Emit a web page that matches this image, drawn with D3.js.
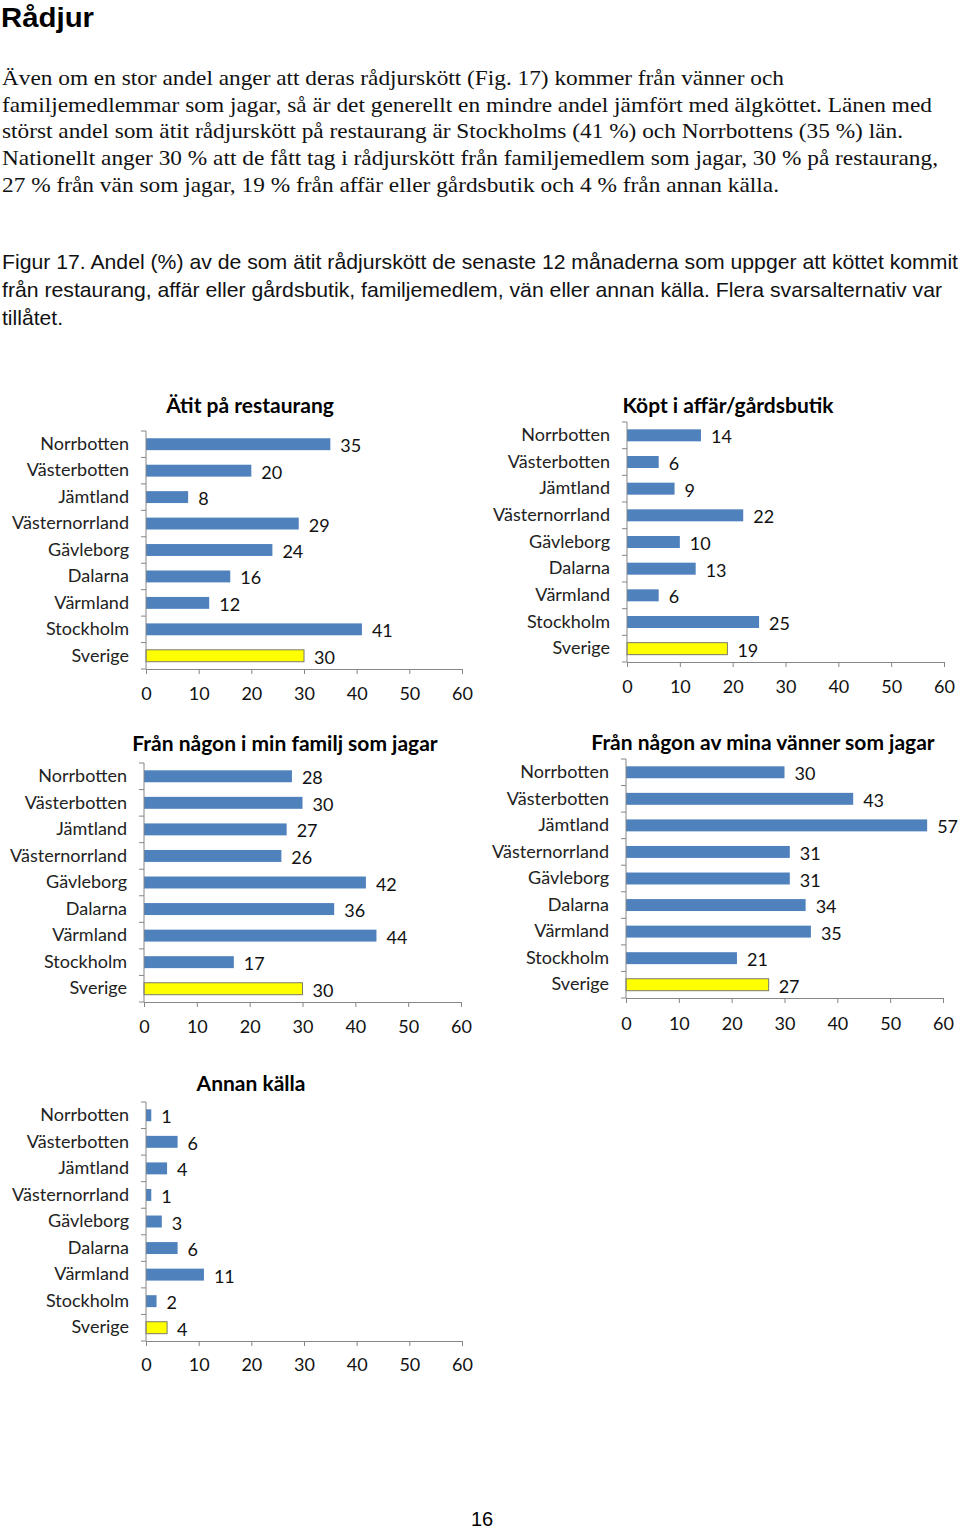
<!DOCTYPE html>
<html><head><meta charset="utf-8">
<script src="https://cdn.jsdelivr.net/npm/d3@7"></script>
<style>
html,body{margin:0;padding:0;background:#fff;}
svg{display:block;}
</style></head>
<body>
<script>
// ---------- DATA ----------
const categories = ["Norrbotten","Västerbotten","Jämtland","Västernorrland","Gävleborg","Dalarna","Värmland","Stockholm","Sverige"];
const restaurang = [35,20,8,29,24,16,12,41,30];
const affar      = [14,6,9,22,10,13,6,25,19];
const familj     = [28,30,27,26,42,36,44,17,30];
const vanner     = [30,43,57,31,31,34,35,21,27];
const annan      = [1,6,4,1,3,6,11,2,4];
const xTicks = [0,10,20,30,40,50,60];
const chartTitles = ["Ätit på restaurang","Köpt i affär/gårdsbutik","Från någon i min familj som jagar","Från någon av mina vänner som jagar","Annan källa"];
const series = [restaurang, affar, familj, vanner, annan];

const heading = "Rådjur";
const paragraph = [
 "Även om en stor andel anger att deras rådjurskött (Fig. 17) kommer från vänner och",
 "familjemedlemmar som jagar, så är det generellt en mindre andel jämfört med älgköttet. Länen med",
 "störst andel som ätit rådjurskött på restaurang är Stockholms (41 %) och Norrbottens (35 %) län.",
 "Nationellt anger 30 % att de fått tag i rådjurskött från familjemedlem som jagar, 30 % på restaurang,",
 "27 % från vän som jagar, 19 % från affär eller gårdsbutik och 4 % från annan källa."
];
const caption = [
 "Figur 17. Andel (%) av de som ätit rådjurskött de senaste 12 månaderna som uppger att köttet kommit",
 "från restaurang, affär eller gårdsbutik, familjemedlem, vän eller annan källa. Flera svarsalternativ var",
 "tillåtet."
];
const pageNumber = "16";

// ---------- LAYOUT ----------
const W = 960, H = 1530;
const svg = d3.select("body").append("svg").attr("width", W).attr("height", H);

// text block
svg.append("text").attr("x", 1).attr("y", 27)
  .attr("font-family", "'Liberation Sans', Arial, sans-serif").attr("font-weight", "bold")
  .attr("font-size", 28).attr("textLength", 93).attr("lengthAdjust", "spacingAndGlyphs")
  .text(heading);

const paraWidths = [782, 930, 901, 936, 777];
const paraY = [85, 112, 138, 165, 192];
paragraph.forEach((t, i) => {
  svg.append("text").attr("x", 2).attr("y", paraY[i])
    .attr("font-family", "'Liberation Serif', 'Times New Roman', serif")
    .attr("font-size", 22).attr("fill", "#111")
    .attr("textLength", paraWidths[i]).attr("lengthAdjust", "spacingAndGlyphs")
    .text(t);
});
const capWidths = [956, 940, 61];
const capY = [269, 297, 325];
caption.forEach((t, i) => {
  svg.append("text").attr("x", 2).attr("y", capY[i])
    .attr("font-family", "'Liberation Sans', Arial, sans-serif")
    .attr("font-size", 21).attr("fill", "#111")
    .attr("textLength", capWidths[i]).attr("lengthAdjust", "spacingAndGlyphs")
    .text(t);
});
svg.append("text").attr("x", 482).attr("y", 1526).attr("text-anchor", "middle")
  .attr("font-family", "'Liberation Sans', Arial, sans-serif").attr("font-size", 20)
  .text(pageNumber);

// chart frames
const frames = [
  {x0:146, x1:462, top:431, bottom:669, tx:250, ty:404, tickY:693},
  {x0:627, x1:944, top:422, bottom:662, tx:728, ty:404, tickY:686},
  {x0:144, x1:461, top:763, bottom:1002, tx:285, ty:742, tickY:1026},
  {x0:626, x1:943, top:759, bottom:998, tx:763, ty:741, tickY:1023},
  {x0:146, x1:462, top:1102, bottom:1341, tx:251, ty:1082, tickY:1364}
];

const chartFont = "Lato, 'Open Sans', sans-serif";
const axisColor = "#868686";
const blue = "#4F81BD", yellow = "#FFFF00";

series.forEach((vals, ci) => {
  const f = frames[ci];
  const g = svg.append("g");
  const x = d3.scaleLinear().domain([xTicks[0], xTicks[xTicks.length-1]]).range([f.x0, f.x1]);
  const y = d3.scaleBand().domain(categories).range([f.top, f.bottom]).padding(0);
  const bh = y.bandwidth() * 0.45;

  // title
  g.append("text").attr("x", f.tx).attr("y", f.ty).attr("text-anchor", "middle")
    .attr("dominant-baseline", "central")
    .attr("font-family", chartFont).attr("font-weight", "bold").attr("font-size", 21)
    .attr("fill", "#000").text(chartTitles[ci]);

  // bars
  g.selectAll("rect.bar").data(vals).join("rect")
    .attr("x", x(0))
    .attr("y", (d, i) => y(categories[i]) + (y.bandwidth() - bh) / 2)
    .attr("width", d => x(d) - x(0))
    .attr("height", bh)
    .attr("fill", (d, i) => categories[i] === "Sverige" ? yellow : blue)
    .attr("stroke", (d, i) => categories[i] === "Sverige" ? "#7a7a6a" : "none")
    .attr("stroke-width", 1);

  // value labels
  g.selectAll("text.val").data(vals).join("text")
    .attr("x", d => x(d) + 10)
    .attr("y", (d, i) => y(categories[i]) + y.bandwidth() / 2 + 1)
    .attr("dominant-baseline", "central")
    .attr("font-family", chartFont).attr("font-size", 18).attr("fill", "#111")
    .text(d => d);

  // y axis (category)
  const yAxis = d3.axisLeft(y).tickSize(0).tickPadding(17);
  const ya = g.append("g").attr("transform", `translate(${f.x0},0)`).call(yAxis);
  ya.select(".domain").remove();
  ya.selectAll("text").attr("font-family", chartFont).attr("font-size", 18).attr("fill", "#222");
  // y axis line & boundary ticks
  g.append("line").attr("x1", f.x0).attr("x2", f.x0).attr("y1", f.top).attr("y2", f.bottom)
    .attr("stroke", axisColor);
  const bounds = d3.range(categories.length + 1).map(i => f.top + i * y.step());
  g.selectAll("line.yt").data(bounds).join("line")
    .attr("x1", f.x0 - 5).attr("x2", f.x0).attr("y1", d => d).attr("y2", d => d)
    .attr("stroke", axisColor);

  // x axis
  const xAxis = d3.axisBottom(x).tickValues(xTicks).tickSize(5).tickPadding(6).tickSizeOuter(0);
  const xa = g.append("g").attr("transform", `translate(0,${f.bottom})`).call(xAxis);
  xa.select(".domain").attr("stroke", axisColor);
  xa.selectAll(".tick line").attr("stroke", axisColor);
  xa.selectAll("text").attr("font-family", chartFont).attr("font-size", 18).attr("fill", "#111")
    .attr("y", f.tickY - f.bottom).attr("dy", null).attr("dominant-baseline", "central");
});
</script>
</body></html>
